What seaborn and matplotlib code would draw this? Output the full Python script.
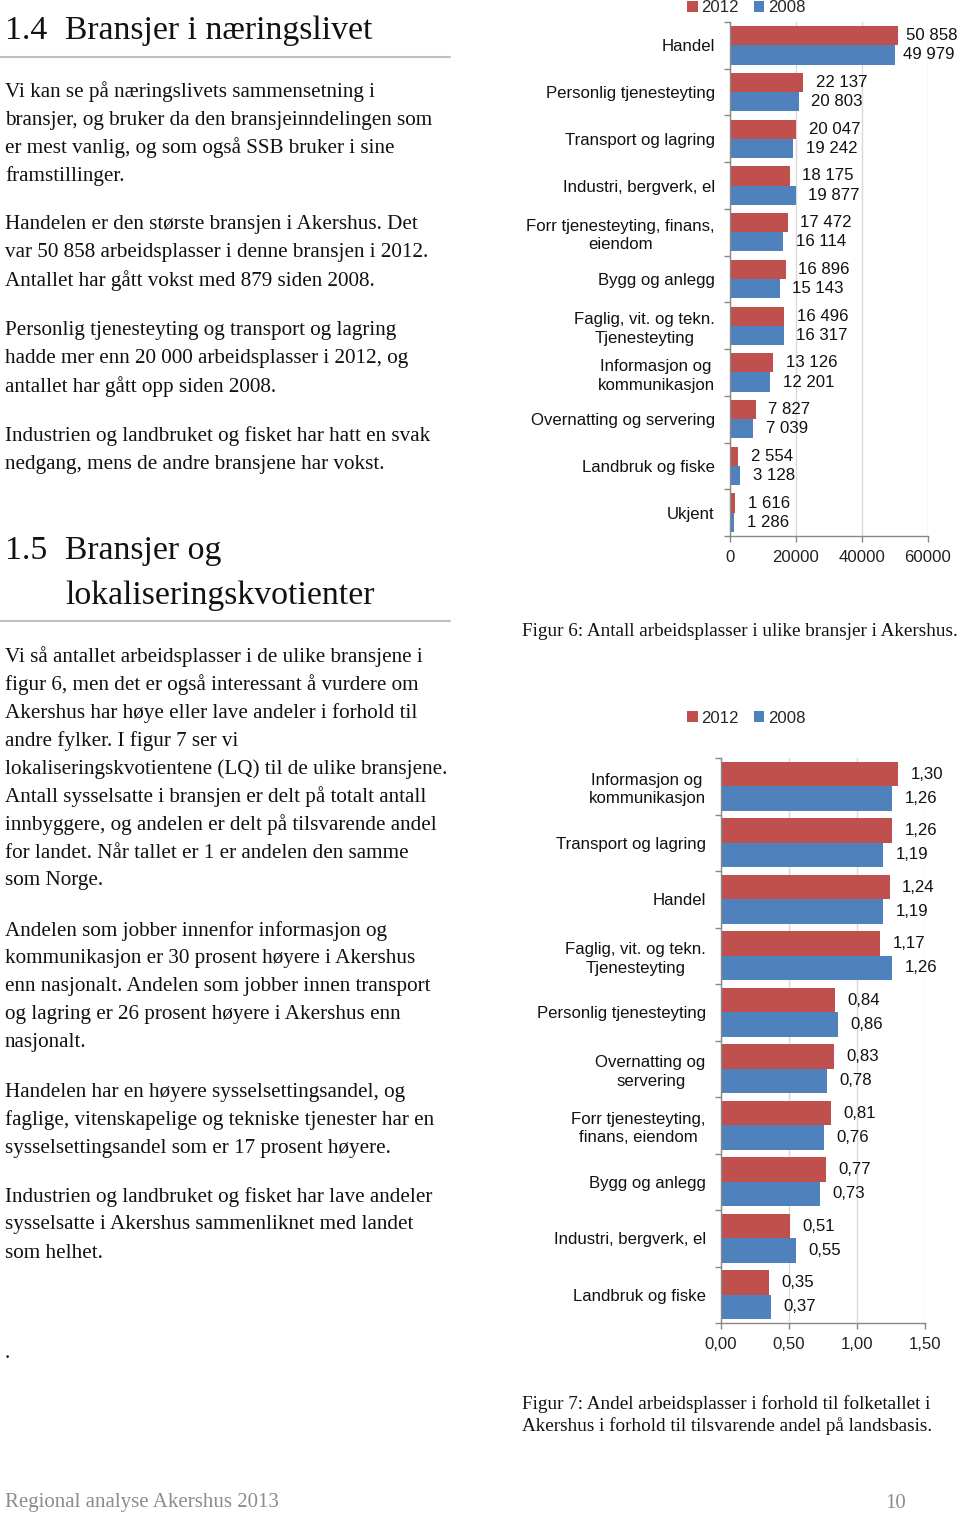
import numpy as np
import pandas as pd
import matplotlib
matplotlib.use("Agg")
import matplotlib.pyplot as plt
import seaborn as sns

# ---------------- data ----------------
cats1 = ["Handel", "Personlig tjenesteyting", "Transport og lagring",
         "Industri, bergverk, el", "Forr tjenesteyting, finans,\neiendom",
         "Bygg og anlegg", "Faglig, vit. og tekn.\nTjenesteyting",
         "Informasjon og\nkommunikasjon", "Overnatting og servering",
         "Landbruk og fiske", "Ukjent"]
v2012_1 = [50858, 22137, 20047, 18175, 17472, 16896, 16496, 13126, 7827, 2554, 1616]
v2008_1 = [49979, 20803, 19242, 19877, 16114, 15143, 16317, 12201, 7039, 3128, 1286]
xticks1 = [0, 20000, 40000, 60000]
xticklabels1 = ["0", "20000", "40000", "60000"]

cats2 = ["Informasjon og\nkommunikasjon", "Transport og lagring", "Handel",
         "Faglig, vit. og tekn.\nTjenesteyting", "Personlig tjenesteyting",
         "Overnatting og\nservering", "Forr tjenesteyting,\nfinans, eiendom",
         "Bygg og anlegg", "Industri, bergverk, el", "Landbruk og fiske"]
v2012_2 = [1.30, 1.26, 1.24, 1.17, 0.84, 0.83, 0.81, 0.77, 0.51, 0.35]
v2008_2 = [1.26, 1.19, 1.19, 1.26, 0.86, 0.78, 0.76, 0.73, 0.55, 0.37]
xticks2 = [0.0, 0.5, 1.0, 1.5]
xticklabels2 = ["0,00", "0,50", "1,00", "1,50"]

years = ["2012", "2008"]
colors = {"2012": "#C0504D", "2008": "#4F81BD"}

# ---------------- setup ----------------
sns.set_style("white")
plt.rcParams["font.family"] = ["Liberation Sans", "DejaVu Sans"]

W, H = 960, 1514
fig = plt.figure(figsize=(W / 100, H / 100), dpi=100)


def fx(x):
    return x / W


def fy(y):
    return 1 - y / H


SERIF = ["Liberation Serif", "DejaVu Serif"]
BODY = 15.2
CHART_FS = 12.1

# ---------------- left column text ----------------
def body(x, y, s, size=BODY, color="#111111", family=SERIF):
    fig.text(fx(x), fy(y), s, ha="left", va="center", fontsize=size,
             family=family, color=color)

HEAD = 24.3
body(5, 31, "1.4", size=HEAD)
body(65, 31, "Bransjer i næringslivet", size=HEAD)
fig.add_artist(plt.Line2D([0, fx(450)], [fy(57), fy(57)], color="#bfbfbf", lw=1.5))

paras = [
    (92, ["Vi kan se på næringslivets sammensetning i",
          "bransjer, og bruker da den bransjeinndelingen som",
          "er mest vanlig, og som også SSB bruker i sine",
          "framstillinger."]),
    (225, ["Handelen er den største bransjen i Akershus. Det",
           "var 50 858 arbeidsplasser i denne bransjen i 2012.",
           "Antallet har gått vokst med 879 siden 2008."]),
    (331, ["Personlig tjenesteyting og transport og lagring",
           "hadde mer enn 20 000 arbeidsplasser i 2012, og",
           "antallet har gått opp siden 2008."]),
    (436, ["Industrien og landbruket og fisket har hatt en svak",
           "nedgang, mens de andre bransjene har vokst."]),
    (657, ["Vi så antallet arbeidsplasser i de ulike bransjene i",
           "figur 6, men det er også interessant å vurdere om",
           "Akershus har høye eller lave andeler i forhold til",
           "andre fylker. I figur 7 ser vi",
           "lokaliseringskvotientene (LQ) til de ulike bransjene.",
           "Antall sysselsatte i bransjen er delt på totalt antall",
           "innbyggere, og andelen er delt på tilsvarende andel",
           "for landet. Når tallet er 1 er andelen den samme",
           "som Norge."]),
    (931, ["Andelen som jobber innenfor informasjon og",
           "kommunikasjon er 30 prosent høyere i Akershus",
           "enn nasjonalt. Andelen som jobber innen transport",
           "og lagring er 26 prosent høyere i Akershus enn",
           "nasjonalt."]),
    (1092, ["Handelen har en høyere sysselsettingsandel, og",
            "faglige, vitenskapelige og tekniske tjenester har en",
            "sysselsettingsandel som er 17 prosent høyere."]),
    (1197, ["Industrien og landbruket og fisket har lave andeler",
            "sysselsatte i Akershus sammenliknet med landet",
            "som helhet."]),
]
for y0, lines in paras:
    for i, line in enumerate(lines):
        body(5, y0 + 28 * i, line)

body(5, 551, "1.5", size=HEAD)
body(65, 551, "Bransjer og", size=HEAD)
body(65, 596, "lokaliseringskvotienter", size=HEAD)
fig.add_artist(plt.Line2D([0, fx(450)], [fy(621), fy(621)], color="#bfbfbf", lw=1.5))

body(5, 1353, ".")

# captions
CAP = 13.8
body(522, 631, "Figur 6: Antall arbeidsplasser i ulike bransjer i Akershus.", size=CAP)
body(522, 1404, "Figur 7: Andel arbeidsplasser i forhold til folketallet i", size=CAP)
body(522, 1426, "Akershus i forhold til tilsvarende andel på landsbasis.", size=CAP)

# footer
body(5, 1503, "Regional analyse Akershus 2013", size=15, color="#8c8c8c")
body(885, 1503, "10", size=15, color="#8c8c8c")


# ---------------- charts ----------------
def make_chart(rect_px, cats, a, b, xt, xtl, fmt, legend_xy, width, first_pad=None):
    left, top, right, bottom = rect_px
    ax = fig.add_axes([fx(left), fy(bottom), fx(right) - fx(left), (bottom - top) / H])
    df = pd.DataFrame({
        "cat": cats * 2,
        "year": ["2012"] * len(cats) + ["2008"] * len(cats),
        "val": list(a) + list(b),
    })
    sns.barplot(data=df, y="cat", x="val", hue="year", hue_order=years,
                palette=colors, orient="h", width=width, ax=ax,
                saturation=1, edgecolor="none", errorbar=None)
    ax.set_xlim(xt[0], xt[-1])
    ax.set_xticks(xt)
    ax.set_xticklabels(xtl, fontsize=CHART_FS, color="#222222")
    ax.set_xlabel("")
    ax.set_ylabel("")
    ax.set_yticks(np.arange(len(cats)))
    ax.set_yticklabels(cats, fontsize=CHART_FS, color="#111111",
                       multialignment="center", linespacing=1.3)
    ax.tick_params(axis="y", which="major", length=0, pad=11)
    ax.set_yticks(np.arange(-0.5, len(cats)), minor=True)
    ax.tick_params(axis="y", which="minor", left=True, length=4,
                   color="#888888", width=1)
    ax.tick_params(axis="x", which="major", bottom=True, length=4,
                   color="#888888", width=1, pad=6)
    ax.set_ylim(len(cats) - 0.5, -0.5)
    ax.grid(axis="x", color="#d9d9d9", lw=1)
    ax.set_axisbelow(True)
    for s in ["top", "right"]:
        ax.spines[s].set_visible(False)
    for s in ["left", "bottom"]:
        ax.spines[s].set_color("#888888")
        ax.spines[s].set_linewidth(1)
    for cont, vals in zip(ax.containers, [a, b]):
        anns = ax.bar_label(cont, labels=[fmt(v) for v in vals], padding=9,
                            fontsize=CHART_FS, color="#111111")
        if first_pad is not None:
            anns[0].xyann = (first_pad, 0)
    sns.move_legend(ax, loc="center", bbox_to_anchor=(fx(legend_xy[0]), fy(legend_xy[1])),
                    bbox_transform=fig.transFigure, ncol=2, frameon=False,
                    title=None, handlelength=0.65, handleheight=0.65,
                    handletextpad=0.2, columnspacing=0.9, fontsize=CHART_FS)
    return ax


def fmt_int(v):
    return f"{v:,}".replace(",", " ")


def fmt_dec(v):
    return f"{v:.2f}".replace(".", ",")


make_chart((730, 22, 928, 536), cats1, v2012_1, v2008_1, xticks1, xticklabels1,
           fmt_int, (746, 8), 0.82, first_pad=6)
make_chart((721, 758, 925, 1323), cats2, v2012_2, v2008_2, xticks2, xticklabels2,
           fmt_dec, (746, 718), 0.86)

fig.savefig("out.png", dpi=100)
